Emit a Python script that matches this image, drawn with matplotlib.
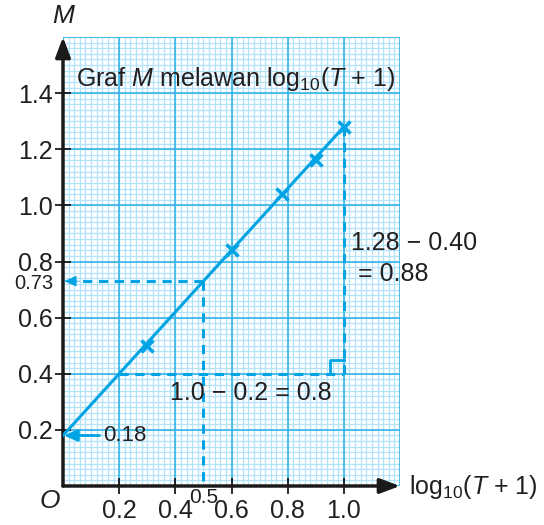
import numpy as np
import matplotlib
matplotlib.use('Agg')
import matplotlib.pyplot as plt

plt.rcParams['font.family'] = ['Liberation Sans', 'DejaVu Sans']
plt.rcParams['mathtext.fontset'] = 'custom'
plt.rcParams['mathtext.rm'] = 'Liberation Sans'
plt.rcParams['mathtext.it'] = 'Liberation Sans:italic'

# data
x_pts = [0.3, 0.6, 0.78, 0.9, 1.0]
y_pts = [0.5, 0.84, 1.04, 1.16, 1.28]
line_x = [0.0, 1.0]
line_y = [0.18, 1.28]
x_ticks = [0.2, 0.4, 0.6, 0.8, 1.0]
x_ticklabels = ['0.2', '0.4', '0.6', '0.8', '1.0']
y_ticks = [0.2, 0.4, 0.6, 0.8, 1.0, 1.2, 1.4]
y_ticklabels = ['0.2', '0.4', '0.6', '0.8', '1.0', '1.2', '1.4']
read_x, read_y = 0.5, 0.73      # reading from the line
tri_x = [0.2, 1.0]               # gradient triangle
tri_y = [0.40, 1.28]
intercept = 0.18

BLUE = '#00a3e3'
MINOR = '#b3e3f8'
MAJOR = '#35b5e8'
TXT = '#231f20'
FS = 18

fig = plt.figure(figsize=(5.44, 5.25), dpi=100)
ax = fig.add_axes([63 / 544, 39 / 525, 337 / 544, 449 / 525])
ax.set_xlim(0, 1.2)
ax.set_ylim(0, 1.6)
for s in ax.spines.values():
    s.set_visible(False)

# graph paper
ax.vlines(np.linspace(0, 1.2, 61), 0, 1.6, colors=MINOR, lw=0.9, zorder=0)
ax.hlines(np.linspace(0, 1.6, 81), 0, 1.2, colors=MINOR, lw=0.9, zorder=0)
ax.vlines(np.linspace(0, 1.2, 7), 0, 1.6, colors=MAJOR, lw=1.2, zorder=0)
ax.hlines(np.linspace(0, 1.6, 9), 0, 1.2, colors=MAJOR, lw=1.2, zorder=0)

# axes with arrows
ax.annotate('', xy=(1.2, 0), xytext=(0, 0), annotation_clip=False,
            arrowprops=dict(arrowstyle='-|>,head_length=1.2,head_width=0.45', lw=2.5,
                            color='#1a1a1a', shrinkA=0, shrinkB=0))
ax.annotate('', xy=(0, 1.6), xytext=(0, 0), annotation_clip=False,
            arrowprops=dict(arrowstyle='-|>,head_length=1.2,head_width=0.45', lw=2.5,
                            color='#1a1a1a', shrinkA=0, shrinkB=0))

ax.set_xticks(x_ticks)
ax.set_xticklabels(x_ticklabels)
ax.set_yticks(y_ticks)
ax.set_yticklabels(y_ticklabels)
ax.tick_params(direction='inout', length=11, width=1.3, color='#1a1a1a',
               labelsize=FS, labelcolor=TXT)
ax.tick_params(axis='x', pad=4)
ax.tick_params(axis='y', pad=2)

# best fit line and points
ax.plot(line_x, line_y, color=BLUE, lw=2.2, zorder=3)
ax.plot(x_pts, y_pts, 'x', color=BLUE, ms=8, mew=2.5, zorder=4)

# reading at x = 0.5
dash = dict(color=BLUE, lw=2.2, ls=(0, (3, 2.2)), zorder=2)
ax.plot([read_x, 0.04], [read_y, read_y], **dash)
ax.plot([read_x, read_x], [read_y, 0], **dash)
ax.annotate('', xy=(0.004, read_y), xytext=(0.06, read_y),
            arrowprops=dict(arrowstyle='-|>,head_length=0.8,head_width=0.35', lw=0.5,
                            color=BLUE, shrinkA=0, shrinkB=0))
ax.text(-0.035, read_y - 0.01, '0.73', fontsize=14.5, color=TXT, ha='right', va='center')
ax.text(read_x, -0.042, '0.5', fontsize=15, color=TXT, ha='center', va='center')

# gradient triangle
ax.plot([tri_x[0], tri_x[1]], [tri_y[0], tri_y[0]], **dash)
ax.plot([tri_x[1], tri_x[1]], [tri_y[0], tri_y[1]], **dash)
ax.plot([tri_x[1] - 0.05, tri_x[1] - 0.05, tri_x[1]],
        [tri_y[0], tri_y[0] + 0.05, tri_y[0] + 0.05], color=BLUE, lw=2, zorder=2)
ax.text(0.668, 0.332, '1.0 \u2212 0.2 = 0.8', fontsize=FS, color=TXT, ha='center', va='center')
ax.text(1.025, 0.865, '1.28 \u2212 0.40', fontsize=FS, color=TXT, ha='left', va='center',
        clip_on=False)
ax.text(1.05, 0.755, '= 0.88', fontsize=FS, color=TXT, ha='left', va='center', clip_on=False)

# intercept
ax.annotate('', xy=(0.003, intercept), xytext=(0.13, intercept),
            arrowprops=dict(arrowstyle='-|>,head_length=0.8,head_width=0.35', lw=2,
                            color=BLUE, shrinkA=0, shrinkB=0))
ax.text(0.143, intercept, '0.18', fontsize=16, color=TXT, ha='left', va='center')

# labels
ax.text(0.046, 1.45, 'Graf $M$ melawan log$_{10}$($T$ + 1)', fontsize=FS, color=TXT,
        ha='left', va='center')
ax.text(0.005, 1.675, '$M$', fontsize=19, color=TXT, ha='center', va='center', clip_on=False)
ax.text(-0.047, -0.055, '$O$', fontsize=19, color=TXT, ha='center', va='center', clip_on=False)
ax.text(1.232, -0.005, 'log$_{10}$($T$ + 1)', fontsize=FS, color=TXT, ha='left', va='center',
        clip_on=False)

fig.savefig('out.png', dpi=100)
